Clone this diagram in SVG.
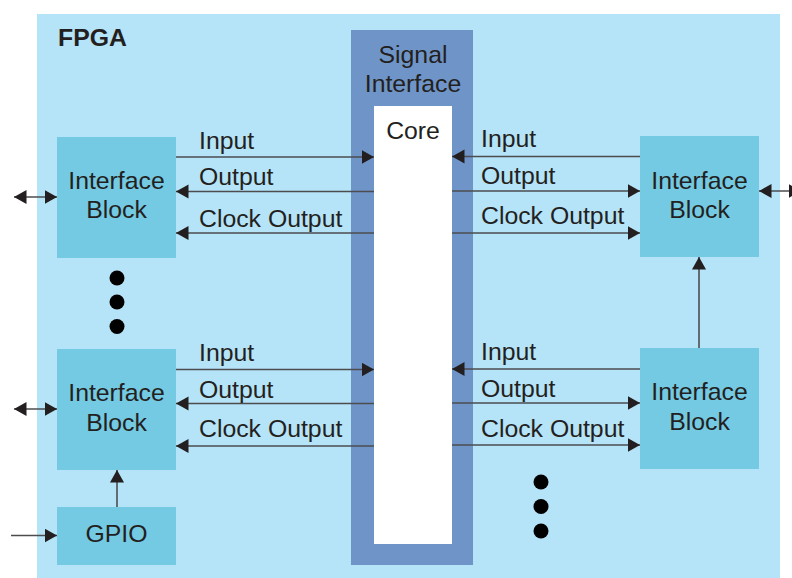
<svg xmlns="http://www.w3.org/2000/svg" width="792" height="578" viewBox="0 0 792 578">
<defs>
<marker id="ah" markerUnits="userSpaceOnUse" markerWidth="13" markerHeight="15" refX="12.5" refY="7" orient="auto">
<path d="M0,0 L12.5,7 L0,14 Z" fill="#231f20"/>
</marker>
<marker id="as" markerUnits="userSpaceOnUse" markerWidth="13" markerHeight="15" refX="0" refY="7" orient="auto">
<path d="M12.5,0 L0,7 L12.5,14 Z" fill="#231f20"/>
</marker>
</defs>
<style>
.t{font-family:"Liberation Sans",Arial,sans-serif;font-size:24.8px;fill:#231f20}
.c{text-anchor:middle}
.blk{fill:#74cae3}
.ln{stroke:#4d4d4f;stroke-width:1.6;fill:none}
.dot{fill:#000}
</style>
<rect x="0" y="0" width="792" height="578" fill="#fff"/>
<g id="fpga">
<rect x="37" y="14" width="743" height="564" fill="#b5e3f7"/>
<text class="t" x="58" y="46" style="font-weight:bold">FPGA</text>
</g>
<g id="signal-interface">
<rect x="351" y="30" width="122" height="535" fill="#6f95c8"/>
<text class="t c" x="413" y="63" fill="#2b2b36">Signal</text>
<text class="t c" x="413" y="92">Interface</text>
</g>
<g id="core">
<rect x="374" y="106" width="78" height="438" fill="#fff"/>
<text class="t c" x="413" y="139">Core</text>
</g>
<g id="ib-left-top">
<rect class="blk" x="57" y="137" width="119" height="121"/>
<text class="t c" x="116.5" y="189">Interface</text>
<text class="t c" x="116.5" y="218">Block</text>
</g>
<g id="ib-left-bottom">
<rect class="blk" x="57" y="349" width="119" height="121"/>
<text class="t c" x="116.5" y="401">Interface</text>
<text class="t c" x="116.5" y="431">Block</text>
</g>
<g id="gpio">
<rect class="blk" x="57" y="507" width="119" height="58"/>
<text class="t c" x="116.5" y="542">GPIO</text>
</g>
<g id="ib-right-top">
<rect class="blk" x="640" y="136" width="119" height="121"/>
<text class="t c" x="699.5" y="189">Interface</text>
<text class="t c" x="699.5" y="218">Block</text>
</g>
<g id="ib-right-bottom">
<rect class="blk" x="640" y="348" width="119" height="121"/>
<text class="t c" x="699.5" y="400">Interface</text>
<text class="t c" x="699.5" y="430">Block</text>
</g>
<g id="dots">
<circle class="dot" cx="117" cy="278" r="7.5"/>
<circle class="dot" cx="117" cy="302" r="7.5"/>
<circle class="dot" cx="117" cy="326.5" r="7.5"/>
<circle class="dot" cx="541" cy="482" r="7.5"/>
<circle class="dot" cx="541" cy="506.5" r="7.5"/>
<circle class="dot" cx="541" cy="531" r="7.5"/>
</g>
<g id="connectors">
<line class="ln" x1="176" y1="157" x2="374" y2="157" marker-end="url(#ah)"/>
<line class="ln" x1="374" y1="191.5" x2="176" y2="191.5" marker-end="url(#ah)"/>
<line class="ln" x1="374" y1="233" x2="176" y2="233" marker-end="url(#ah)"/>
<line class="ln" x1="176" y1="369.5" x2="374" y2="369.5" marker-end="url(#ah)"/>
<line class="ln" x1="374" y1="403.5" x2="176" y2="403.5" marker-end="url(#ah)"/>
<line class="ln" x1="374" y1="446" x2="176" y2="446" marker-end="url(#ah)"/>
<line class="ln" x1="640" y1="156.5" x2="452" y2="156.5" marker-end="url(#ah)"/>
<line class="ln" x1="452" y1="191" x2="640" y2="191" marker-end="url(#ah)"/>
<line class="ln" x1="452" y1="233" x2="640" y2="233" marker-end="url(#ah)"/>
<line class="ln" x1="640" y1="369" x2="452" y2="369" marker-end="url(#ah)"/>
<line class="ln" x1="452" y1="403" x2="640" y2="403" marker-end="url(#ah)"/>
<line class="ln" x1="452" y1="445" x2="640" y2="445" marker-end="url(#ah)"/>
<line class="ln" x1="14" y1="197" x2="57" y2="197" marker-start="url(#as)" marker-end="url(#ah)"/>
<line class="ln" x1="14" y1="409" x2="57" y2="409" marker-start="url(#as)" marker-end="url(#ah)"/>
<line class="ln" x1="759" y1="191" x2="801" y2="191" marker-start="url(#as)" marker-end="url(#ah)"/>
<line class="ln" x1="11" y1="535.5" x2="57" y2="535.5" marker-end="url(#ah)"/>
<line class="ln" x1="117" y1="507" x2="117" y2="470" marker-end="url(#ah)"/>
<line class="ln" x1="699" y1="348" x2="699" y2="257" marker-end="url(#ah)"/>
<text class="t" x="199" y="149">Input</text>
<text class="t" x="199" y="185">Output</text>
<text class="t" x="199" y="226.5">Clock Output</text>
<text class="t" x="199" y="361">Input</text>
<text class="t" x="199" y="397.5">Output</text>
<text class="t" x="199" y="437">Clock Output</text>
<text class="t" x="481" y="147">Input</text>
<text class="t" x="481" y="184">Output</text>
<text class="t" x="481" y="224">Clock Output</text>
<text class="t" x="481" y="360">Input</text>
<text class="t" x="481" y="397">Output</text>
<text class="t" x="481" y="437">Clock Output</text>
</g>
</svg>
